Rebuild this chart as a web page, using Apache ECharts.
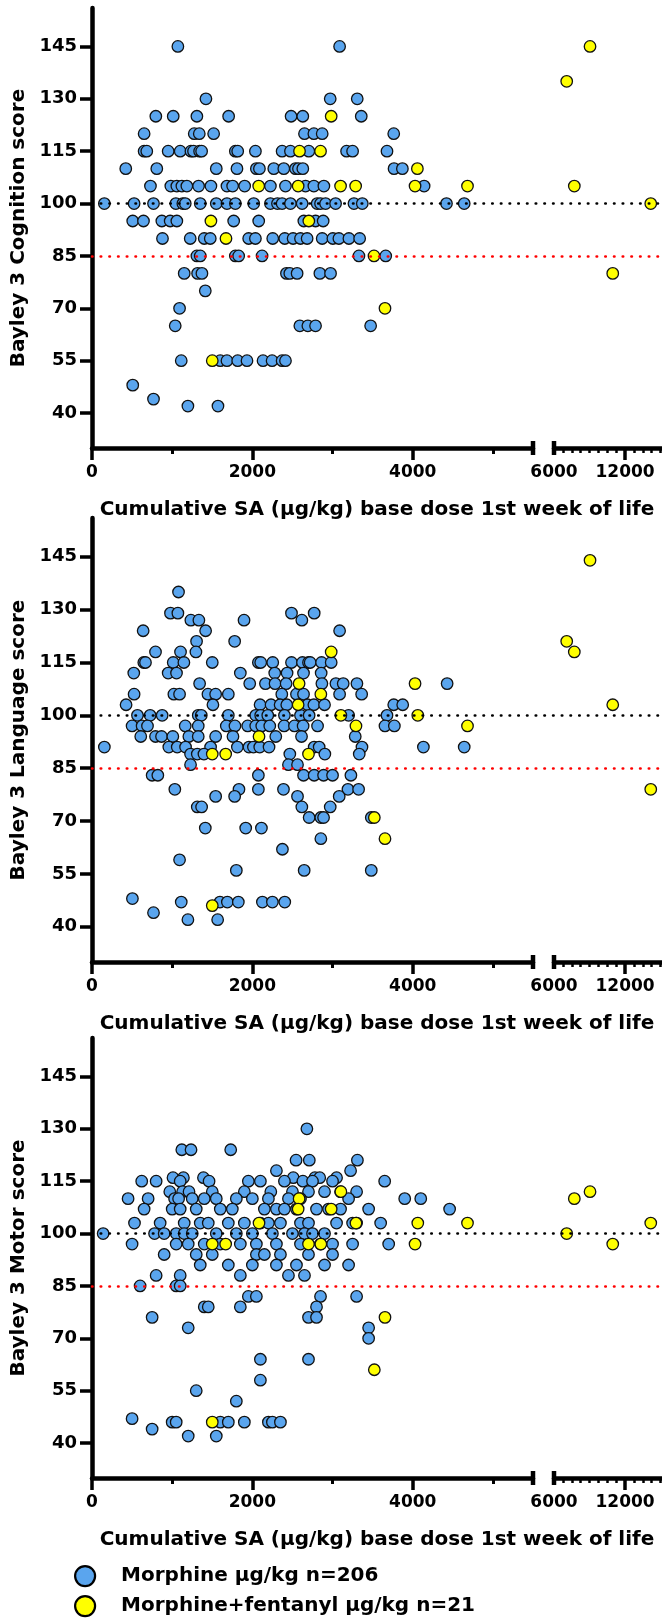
<!DOCTYPE html>
<html>
<head>
<meta charset="utf-8">
<script src="https://cdn.jsdelivr.net/npm/echarts@6/dist/echarts.min.js"></script>
<style>
  html, body { margin: 0; padding: 0; background: #fff; }
  #chart { width: 662px; height: 1618px; }
</style>
</head>
<body>
<div id="chart"></div>
<script>
// ---- data: rows of [score, [cumulative dose µg/kg ...]] for morphine, [dose, score] pairs for fentanyl ----
const cognitionMorphine = [
  [145, [1071, 3088]],
  [130, [1421, 2971, 3308]],
  [125, [796, 1013, 1308, 1704, 2483, 2629, 3358]],
  [120, [650, 1275, 1338, 1517, 2650, 2767, 2871, 3763]],
  [115, [650, 683, 950, 1100, 1234, 1266, 1342, 1367, 1788, 1817, 2038, 2371, 2475, 2704, 3175, 3250, 3679]],
  [110, [421, 808, 1550, 1808, 2050, 2088, 2267, 2392, 2538, 2575, 2629, 3767, 3871]],
  [105, [729, 983, 1058, 1121, 1183, 1329, 1483, 1683, 1754, 1904, 2225, 2413, 2663, 2767, 2892, 4142]],
  [100, [154, 525, 767, 1046, 1133, 1163, 1350, 1550, 1683, 1788, 2017, 2225, 2313, 2371, 2475, 2621, 2808, 2850, 2913, 3038, 3267, 3371, 4421, 4642]],
  [95, [508, 642, 871, 975, 1058, 1767, 2079, 2642, 2788, 2883]],
  [90, [879, 1225, 1400, 1475, 1954, 2038, 2254, 2404, 2508, 2600, 2683, 2871, 3004, 3079, 3204, 3338]],
  [85, [1308, 1350, 1788, 1829, 2121, 3329, 3663]],
  [80, [1150, 1317, 1371, 2425, 2467, 2558, 2842, 2975]],
  [75, [1413]],
  [70, [1092]],
  [65, [1038, 2592, 2692, 2788, 3475]],
  [55, [1113, 1600, 1683, 1817, 1933, 2133, 2246, 2371, 2413]],
  [48, [508]],
  [44, [767]],
  [42, [1196, 1571]]
];
const cognitionFentanyl = [
  [2983, 125], [2588, 115], [2850, 115], [4058, 110], [2079, 105], [2571, 105], [3100, 105], [3288, 105],
  [4029, 105], [4683, 105], [1483, 95], [2704, 95], [1671, 90], [3517, 85], [3654, 70], [1500, 55],
  [7073, 135], [7715, 105], [9042, 145], [10960, 80], [14170, 100]
];

const languageMorphine = [
  [135, [1079]],
  [129, [979, 1071, 2488, 2771]],
  [127, [1233, 1333, 1896, 2617]],
  [124, [638, 1417, 3088]],
  [121, [1304, 1779]],
  [118, [792, 1104, 1296]],
  [115, [646, 667, 1013, 1146, 1500, 2075, 2104, 2254, 2488, 2625, 2700, 2721, 2863, 2983]],
  [112, [521, 950, 1054, 1850, 2279, 2433, 2638, 2858]],
  [109, [1342, 1967, 2163, 2283, 2421, 2867, 3042, 3133, 3304, 4429]],
  [106, [525, 1021, 1092, 1446, 1542, 1700, 2367, 2550, 2638, 3088, 3363]],
  [103, [425, 1508, 2096, 2233, 2346, 2429, 2688, 2767, 2900, 3763, 3875]],
  [100, [567, 725, 875, 1325, 1363, 1700, 2042, 2104, 2192, 2400, 2600, 2708, 3200, 3679]],
  [97, [500, 625, 692, 1163, 1325, 1675, 1783, 1942, 2042, 2117, 2217, 2396, 2525, 2633, 2813, 3654, 3771]],
  [94, [608, 792, 867, 1008, 1208, 1325, 1542, 1758, 2292, 2613, 3283]],
  [91, [154, 958, 1063, 1167, 1479, 1813, 1958, 2013, 2092, 2208, 2771, 2833, 3367, 4133, 4642]],
  [89, [1229, 1313, 1396, 2467, 2904, 3333]],
  [86, [1229, 2450, 2563]],
  [83, [750, 821, 2075, 2638, 2771, 2888, 3000, 3229]],
  [79, [1033, 1833, 2075, 2388, 3192, 3325]],
  [77, [1542, 1779, 2563, 3083]],
  [74, [1313, 1367, 2617, 2971]],
  [71, [2708, 2854, 2888, 3483]],
  [68, [1413, 1917, 2113]],
  [65, [2854]],
  [62, [2375]],
  [59, [1092]],
  [56, [1800, 2646, 3483]],
  [48, [504]],
  [47, [1113, 1596, 1688, 1825, 2125, 2250, 2404]],
  [44, [767]],
  [42, [1196, 1567]]
];
const languageFentanyl = [
  [2983, 118], [2583, 109], [4029, 109], [2854, 106], [2571, 103], [3104, 100], [4063, 100], [3292, 97],
  [4683, 97], [2083, 94], [1500, 89], [1667, 89], [2700, 89], [3521, 71], [3654, 65], [1500, 46],
  [7073, 121], [7715, 118], [9042, 144], [10960, 103], [14170, 79]
];

const motorMorphine = [
  [130, [2680]],
  [124, [1120, 1235, 1730]],
  [121, [2545, 2710, 3310]],
  [118, [2300, 3225]],
  [116, [1010, 1140, 1390, 2510, 2780, 2840, 3050]],
  [115, [620, 800, 1100, 1460, 1950, 2100, 2400, 2630, 2750, 3000, 3650]],
  [112, [970, 1130, 1210, 1500, 1900, 2230, 2500, 2700, 2900, 3100, 3300]],
  [110, [450, 700, 1030, 1080, 1250, 1400, 1550, 1800, 2000, 2200, 2450, 2600, 3200, 3900, 4100]],
  [107, [650, 1000, 1100, 1300, 1600, 1750, 2150, 2300, 2400, 2550, 2800, 2950, 3100, 3450, 4460]],
  [103, [530, 850, 1150, 1350, 1450, 1700, 1900, 2100, 2200, 2350, 2600, 2700, 3050, 3250, 3300, 3600]],
  [100, [139, 780, 900, 1050, 1150, 1250, 1550, 1800, 2000, 2250, 2500, 2650, 2750, 2900]],
  [97, [500, 1050, 1200, 1400, 1600, 1850, 2050, 2300, 2600, 2850, 3000, 3250, 3700]],
  [94, [900, 1300, 1500, 2050, 2150, 2350, 2700, 3000]],
  [91, [1350, 1700, 2000, 2300, 2550, 2900, 3200]],
  [88, [800, 1100, 1850, 2450, 2650]],
  [85, [600, 1050, 1100]],
  [82, [1950, 2050, 2850, 3300]],
  [79, [1400, 1450, 1850, 2800]],
  [76, [750, 2700, 2800]],
  [73, [1200, 3450]],
  [70, [3450]],
  [64, [2100, 2700]],
  [58, [2100]],
  [55, [1300]],
  [52, [1800]],
  [47, [500]],
  [46, [1000, 1050, 1600, 1700, 1900, 2200, 2250, 2350]],
  [44, [750]],
  [42, [1200, 1550]]
];
const motorFentanyl = [
  [2983, 107], [2583, 110], [4029, 97], [2854, 97], [2571, 107], [3104, 112], [4063, 103], [3292, 103],
  [4683, 103], [2083, 103], [1500, 97], [1667, 97], [2700, 97], [3521, 61], [3654, 76], [1500, 46],
  [7073, 100], [7715, 110], [9042, 112], [10960, 97], [14170, 103]
];

const yTicks = [40, 55, 70, 85, 100, 115, 130, 145];
const xMajorTicks = [0, 2000, 4000];
const xMinorTicks = [1000, 3000, 5000];
const xBreakTicks = [6000, 12000];
const referenceLines = [100, 85];
const seriesNames = ['Morphine µg/kg n=206', 'Morphine+fentanyl µg/kg n=21'];

const Y_MIN = 30, Y_MAX = 156;
const LEFT_MAX = 5500, RIGHT_MIN = 6000, RIGHT_MAX = 15120, RIGHT_MINOR_STEP = 750;
const FONT = 'DejaVu Sans';
const BLUE = '#5aa5ee';
const YELLOW = '#ffff00';

// minor ticks of the segment after the break (every 750)
const xBreakMinorTicks = [];
for (let v = RIGHT_MIN + RIGHT_MINOR_STEP; v <= RIGHT_MAX; v += RIGHT_MINOR_STEP) {
  if (!xBreakTicks.includes(v)) xBreakMinorTicks.push(v);
}

const panels = [
  { title: 'Bayley 3 Cognition score', top: 8, height: 440, morphine: cognitionMorphine, fentanyl: cognitionFentanyl },
  { title: 'Bayley 3 Language score', top: 518, height: 444, morphine: languageMorphine, fentanyl: languageFentanyl },
  { title: 'Bayley 3 Motor score', top: 1038, height: 440, morphine: motorMorphine, fentanyl: motorFentanyl }
];

const rowsToPoints = (rows) => rows.flatMap(([score, xs]) => xs.map((x) => [x, score]));

const labelFont = { fontFamily: FONT, fontWeight: 'bold', color: '#000' };
const axisLine = { show: true, lineStyle: { color: '#000', width: 4.5 } };
const plain = (v) => String(v);

const grid = [], xAxis = [], yAxis = [], series = [];

const pointStyle = (color) => ({
  type: 'scatter',
  symbol: 'circle',
  symbolSize: 11.5,
  itemStyle: { color, borderColor: '#111', borderWidth: 1.3, opacity: 1 },
  emphasis: { disabled: true },
  silent: true
});

const tickOnlyAxis = (gridIndex, min, max, values, length, width) => ({
  type: 'value', gridIndex, min, max, position: 'bottom',
  axisLine: { show: false },
  axisTick: { show: true, customValues: values, length, lineStyle: { width, color: '#000' } },
  axisLabel: { show: false },
  splitLine: { show: false }
});

panels.forEach((p, i) => {
  const g = i * 3, xa = i * 5;
  grid.push({ left: 92, top: p.top, width: 441, height: p.height });
  grid.push({ left: 554, top: p.top, right: 0, height: p.height });
  grid.push({ left: 92, right: 0, top: p.top, height: p.height });

  // left linear segment
  xAxis.push({
    type: 'value', gridIndex: g, min: 0, max: LEFT_MAX,
    axisLine: { ...axisLine, symbol: ['none', 'rect'], symbolSize: [14, 4.5] },
    axisTick: { show: true, customValues: xMajorTicks, length: 12, lineStyle: { width: 3.5, color: '#000' } },
    axisLabel: { customValues: xMajorTicks, formatter: plain, ...labelFont, fontSize: 17, margin: 16 },
    splitLine: { show: false }
  });
  xAxis.push(tickOnlyAxis(g, 0, LEFT_MAX, xMinorTicks, 6, 3));
  // segment after the break
  xAxis.push({
    type: 'value', gridIndex: g + 1, min: RIGHT_MIN, max: RIGHT_MAX,
    axisLine: { ...axisLine, symbol: ['rect', 'none'], symbolSize: [14, 4.5] },
    axisTick: { show: true, customValues: [12000], length: 12, lineStyle: { width: 3.5, color: '#000' } },
    axisLabel: { customValues: xBreakTicks, formatter: plain, showMinLabel: true, ...labelFont, fontSize: 17, margin: 16 },
    splitLine: { show: false }
  });
  xAxis.push(tickOnlyAxis(g + 1, RIGHT_MIN, RIGHT_MAX, xBreakMinorTicks, 5, 2.5));
  // overlay spanning both segments: reference lines and x title
  xAxis.push({
    type: 'value', gridIndex: g + 2, min: 0, max: 1,
    axisLine: { show: false }, axisTick: { show: false }, axisLabel: { show: false }, splitLine: { show: false },
    name: 'Cumulative SA (µg/kg) base dose 1st week of life',
    nameLocation: 'middle', nameGap: 52,
    nameTextStyle: { ...labelFont, fontSize: 20 }
  });

  yAxis.push({
    type: 'value', gridIndex: g, min: Y_MIN, max: Y_MAX,
    axisLine: axisLine,
    axisTick: { show: true, customValues: yTicks, length: 12, lineStyle: { width: 3.5, color: '#000' } },
    axisLabel: { customValues: yTicks, ...labelFont, fontSize: 18, margin: 15 },
    splitLine: { show: false },
    name: p.title, nameLocation: 'middle', nameGap: 61,
    nameTextStyle: { ...labelFont, fontSize: 20 }
  });
  yAxis.push({ type: 'value', gridIndex: g + 1, min: Y_MIN, max: Y_MAX, show: false });
  yAxis.push({ type: 'value', gridIndex: g + 2, min: Y_MIN, max: Y_MAX, show: false });

  const fentanylLeft = p.fentanyl.filter(([x]) => x <= LEFT_MAX);
  const fentanylRight = p.fentanyl.filter(([x]) => x > LEFT_MAX);

  series.push({ ...pointStyle(BLUE), name: seriesNames[0], xAxisIndex: xa, yAxisIndex: g, data: rowsToPoints(p.morphine) });
  series.push({ ...pointStyle(YELLOW), name: seriesNames[1], xAxisIndex: xa, yAxisIndex: g, data: fentanylLeft });
  series.push({ ...pointStyle(YELLOW), name: seriesNames[1], xAxisIndex: xa + 2, yAxisIndex: g + 1, data: fentanylRight });
  series.push({
    type: 'scatter', xAxisIndex: xa + 4, yAxisIndex: g + 2, data: [], z: 5, silent: true,
    markLine: {
      silent: true, symbol: 'none', animation: false,
      label: { show: false },
      data: referenceLines.map((v, k) => ({
        yAxis: v,
        lineStyle: { color: k === 0 ? '#000' : '#ff0000', width: 2.6, type: [0.5, 8.2], cap: 'round' }
      }))
    }
  });
});

const legendBase = {
  orient: 'vertical', left: 74, padding: 0,
  itemWidth: 62, itemHeight: 20,
  icon: 'circle',
  itemStyle: { borderColor: '#000', borderWidth: 2.2 },
  textStyle: { ...labelFont, fontSize: 20, lineHeight: 20 },
  selectedMode: false
};

const chart = echarts.init(document.getElementById('chart'), null, { renderer: 'canvas' });
chart.setOption({
  animation: false,
  backgroundColor: '#fff',
  grid, xAxis, yAxis, series,
  legend: [
    { ...legendBase, data: [seriesNames[0]], top: 1565 },
    { ...legendBase, data: [seriesNames[1]], top: 1595 }
  ]
});
</script>
</body>
</html>
